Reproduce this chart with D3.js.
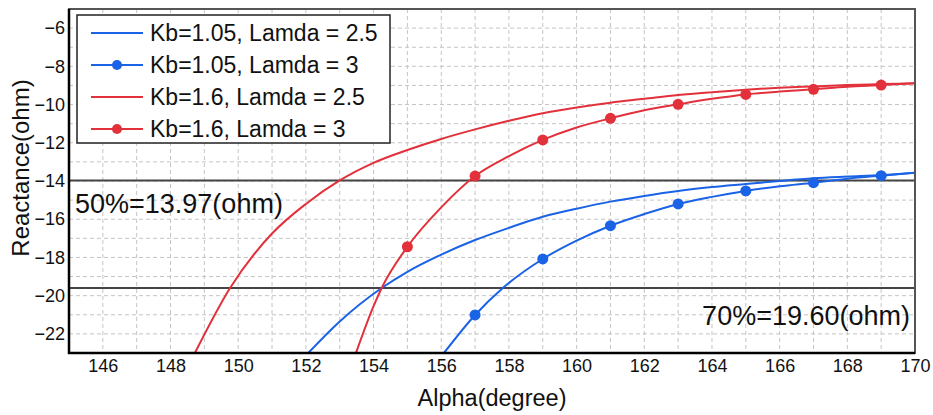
<html>
<head>
<meta charset="utf-8">
<script src="https://d3js.org/d3.v7.min.js"></script>
<style>
  body { margin: 0; background: #fff; }
  text { font-family: "Liberation Sans", Arial, sans-serif; fill: #111; }
</style>
</head>
<body>
<svg class="chart" width="933" height="415"></svg>
<script>

// tick labels
const xTicks = [146, 148, 150, 152, 154, 156, 158, 160, 162, 164, 166, 168, 170];
const yTicks = [-22, -20, -18, -16, -14, -12, -10, -8, -6];

// Kb=1.05, Lamda=2.5
const blueAlpha = [152.07, 153, 154.24, 155, 156, 157, 158, 159, 160, 161, 162, 163, 164, 165, 166, 167, 168, 169, 170];
const blueX = [-23.0, -21.35, -19.6, -18.75, -17.85, -17.09, -16.45, -15.87, -15.45, -15.08, -14.78, -14.52, -14.32, -14.16, -14.0, -13.86, -13.77, -13.69, -13.57];

// Kb=1.05, Lamda=3
const blueDotAlpha = [156.08, 157, 157.82, 159, 160, 161, 162, 163, 164, 165, 166, 167, 168, 169, 170];
const blueDotX = [-23.0, -21.01, -19.6, -18.08, -17.12, -16.34, -15.73, -15.2, -14.83, -14.52, -14.28, -14.09, -13.88, -13.72, -13.57];

// Kb=1.6, Lamda=2.5
const redAlpha = [148.72, 149.76, 151, 152, 153, 154, 155, 156, 157, 158, 159, 160, 161, 162, 163, 164, 165, 166, 167, 168, 169, 170];
const redX = [-23.0, -19.6, -16.75, -15.2, -13.97, -13.05, -12.38, -11.8, -11.3, -10.85, -10.45, -10.15, -9.9, -9.7, -9.5, -9.35, -9.22, -9.12, -9.05, -8.98, -8.93, -8.88];

// Kb=1.6, Lamda=3
const redDotAlpha = [153.48, 154, 154.24, 155, 156, 157, 158, 159, 160, 161, 162, 163, 164, 165, 166, 167, 168, 169, 170];
const redDotX = [-23.0, -20.55, -19.6, -17.44, -15.38, -13.74, -12.7, -11.85, -11.2, -10.72, -10.3, -9.99, -9.7, -9.47, -9.32, -9.2, -9.07, -8.98, -8.88];

const names = ["Kb=1.05, Lamda = 2.5", "Kb=1.05, Lamda = 3", "Kb=1.6, Lamda = 2.5", "Kb=1.6, Lamda = 3"];
const refValues = [-13.97, -19.60];
const refLabels = ["50%=13.97(ohm)", "70%=19.60(ohm)"];

const blue = "#1a62e6", red = "#e2313b";

const series = [
  {name: names[0], color: blue, dots: false, pts: blueAlpha.map((a, i) => [a, blueX[i]])},
  {name: names[1], color: blue, dots: true, pts: blueDotAlpha.map((a, i) => [a, blueDotX[i]])},
  {name: names[2], color: red, dots: false, pts: redAlpha.map((a, i) => [a, redX[i]])},
  {name: names[3], color: red, dots: true, pts: redDotAlpha.map((a, i) => [a, redDotX[i]])}
];

const svg = d3.select(".chart");
const m = {top: 9, right: 18, bottom: 62, left: 69};
const W = 933 - m.left - m.right, H = 415 - m.top - m.bottom;

const x = d3.scaleLinear().domain([145, 170]).range([0, W]);
const y = d3.scaleLinear().domain([-23, -5]).range([H, 0]);

const g = svg.append("g").attr("transform", `translate(${m.left},${m.top})`);

g.append("clipPath").attr("id", "clip")
  .append("rect").attr("width", W).attr("height", H);

// dashed grid every unit
g.append("g").selectAll("line").data(d3.range(146, 170)).join("line")
  .attr("x1", d => x(d)).attr("x2", d => x(d)).attr("y1", 0).attr("y2", H)
  .attr("stroke", "#c4c4c4").attr("stroke-dasharray", "4,3");
g.append("g").selectAll("line").data(d3.range(-22, -5)).join("line")
  .attr("y1", d => y(d)).attr("y2", d => y(d)).attr("x1", 0).attr("x2", W)
  .attr("stroke", "#c4c4c4").attr("stroke-dasharray", "4,3");

// axes (labels only)
const xAxis = g.append("g").attr("transform", `translate(0,${H})`)
  .call(d3.axisBottom(x).tickValues(xTicks).tickSize(0).tickPadding(6).tickFormat(d3.format("d")));
const yAxis = g.append("g")
  .call(d3.axisLeft(y).tickValues(yTicks).tickSize(0).tickPadding(4).tickFormat(d3.format("d")));
[xAxis, yAxis].forEach(a => {
  a.select(".domain").remove();
  a.selectAll("text").attr("font-size", 18).attr("font-family", "Liberation Sans, Arial, sans-serif").attr("fill", "#111");
});

// reference lines
g.append("g").selectAll("line").data(refValues).join("line")
  .attr("x1", 0).attr("x2", W).attr("y1", d => y(d)).attr("y2", d => y(d))
  .attr("stroke", "#444").attr("stroke-width", 2);

// curves
const line = d3.line().x(d => x(d[0])).y(d => y(d[1])).curve(d3.curveMonotoneX);
const plot = g.append("g").attr("clip-path", "url(#clip)");
plot.selectAll("path").data(series).join("path")
  .attr("d", d => line(d.pts))
  .attr("fill", "none").attr("stroke", d => d.color).attr("stroke-width", 2);

series.filter(s => s.dots).forEach(s => {
  plot.append("g").selectAll("circle")
    .data(s.pts.filter(p => Number.isInteger(p[0]) && p[0] % 2 === 1))
    .join("circle")
    .attr("cx", d => x(d[0])).attr("cy", d => y(d[1])).attr("r", 5.5)
    .attr("fill", s.color);
});

// frame
g.append("rect").attr("width", W).attr("height", H)
  .attr("fill", "none").attr("stroke", "#555").attr("stroke-width", 2);
g.append("path").attr("d", `M0,0V${H}H${W}`)
  .attr("fill", "none").attr("stroke", "#000").attr("stroke-width", 2.5);

// annotations
g.append("text").attr("x", 6).attr("y", 204).attr("font-size", 27).text(refLabels[0]);
g.append("text").attr("x", W - 5).attr("y", 316).attr("text-anchor", "end").attr("font-size", 27).text(refLabels[1]);

// axis titles
svg.append("text").attr("x", m.left + W / 2).attr("y", 406).attr("text-anchor", "middle")
  .attr("font-size", 23.5).text("Alpha(degree)");
svg.append("text").attr("transform", `translate(29,${m.top + H / 2 - 13}) rotate(-90)`)
  .attr("text-anchor", "middle").attr("font-size", 24).text("Reactance(ohm)");

// legend
const lg = svg.append("g").attr("transform", "translate(77,15)");
lg.append("rect").attr("width", 313).attr("height", 128)
  .attr("fill", "#fff").attr("stroke", "#222").attr("stroke-width", 1.5);
const rows = lg.selectAll("g.row").data(series).join("g")
  .attr("class", "row").attr("transform", (d, i) => `translate(0,${18 + i * 32})`);
rows.append("line").attr("x1", 14).attr("x2", 66)
  .attr("stroke", d => d.color).attr("stroke-width", 2);
rows.filter(d => d.dots).append("circle").attr("cx", 40).attr("r", 5).attr("fill", d => d.color);
rows.append("text").attr("x", 73).attr("y", 8).attr("font-size", 23).text(d => d.name);

</script>
</body>
</html>
